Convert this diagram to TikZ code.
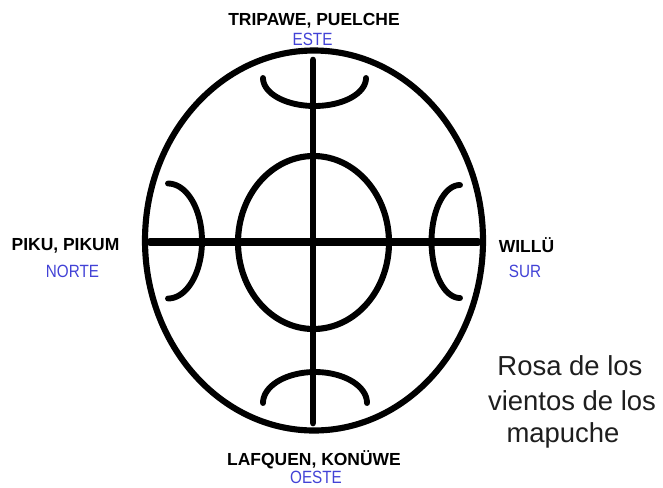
\documentclass[tikz,border=0pt]{standalone}
\usepackage{fontspec}
\setmainfont{Liberation Sans}
\definecolor{lblue}{RGB}{66,66,214}
\definecolor{dgray}{RGB}{30,30,30}
\newcommand{\narrowtxt}[1]{\scalebox{0.86}[1]{#1}}
\begin{document}
\begin{tikzpicture}[x=0.75pt,y=-0.75pt,
  lab/.style={anchor=base,inner sep=0pt,font=\fontsize{13.1pt}{15pt}\selectfont\bfseries},
  blab/.style={anchor=base,inner sep=0pt,text=lblue,font=\fontsize{13.3pt}{15pt}\selectfont},
  title/.style={anchor=base,inner sep=0pt,text=dgray,font=\fontsize{20.6pt}{24pt}\selectfont},
  bar/.style={line width=5pt,line cap=round},
  ring/.style={line width=4.6pt},
  moon/.style={line width=4.4pt,line cap=round}]
\useasboundingbox (0,0) rectangle (663,487);
% outer ellipse
\draw[ring] (314,240.5) ellipse [x radius=169,y radius=190];
% inner ellipse
\draw[ring] (313.5,242.5) ellipse [x radius=75.5,y radius=86.5];
% cross
\coordinate (vt) at (313,60);
\coordinate (vb) at (313,423);
\coordinate (hl) at (150,242);
\coordinate (hr) at (478,242);
\draw[bar] (vt) -- (vb);
\draw[bar,line width=6pt] (hl) -- (hr);
% arcs
\draw[moon] plot[domain=0:180,samples=60,smooth] ({314.5+51.5*cos(\x)},{78+28*sin(\x)});
\draw[moon] plot[domain=180:360,samples=60,smooth] ({315+52*cos(\x)},{403+31*sin(\x)});
\draw[moon] plot[domain=-90:90,samples=60,smooth] ({168+34*cos(\x)},{241+57.5*sin(\x)});
\draw[moon] plot[domain=90:270,samples=60,smooth] ({460+28.5*cos(\x)},{241.5+56.5*sin(\x)});
% labels
\node[lab] (n1) at (314,25) {TRIPAWE, PUELCHE};
\node[blab] (n2) at (312.5,45) {\narrowtxt{ESTE}};
\node[lab] (n3) at (314,465) {LAFQUEN, KONÜWE};
\node[blab] (n4) at (316,483) {\narrowtxt{OESTE}};
\node[lab] (n5) at (65.5,250) {PIKU, PIKUM};
\node[blab] (n6) at (72.5,277) {\narrowtxt{NORTE}};
\node[lab] (n7) at (526.5,252) {WILLÜ};
\node[blab] (n8) at (525,277) {\narrowtxt{SUR}};
\node[title] (t1) at (570,375) {Rosa de los};
\node[title] (t2) at (572,410) {vientos de los};
\node[title] (t3) at (563,442) {mapuche};
\end{tikzpicture}
\end{document}
